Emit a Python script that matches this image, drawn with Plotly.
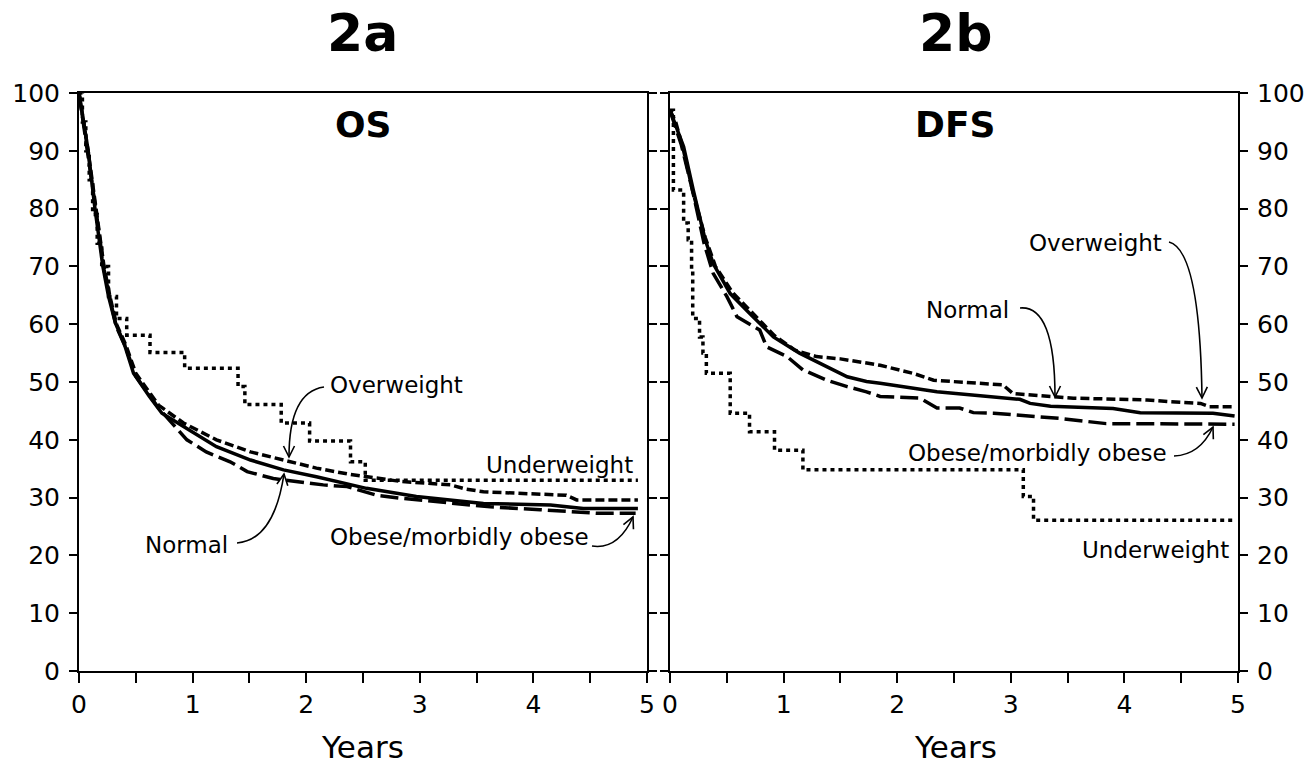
import math
import plotly.graph_objects as go

# ---------------- data ----------------
# 2a  OS (overall survival, %)
os_t_normal = [0, 0.08, 0.14, 0.21, 0.26, 0.32, 0.40, 0.48, 0.62, 0.73, 0.92, 1.21, 1.51, 1.80, 2.09, 2.39, 2.53, 2.97, 3.56, 4.15, 4.44, 4.92]
os_normal   = [100, 90.1, 80.1, 70.0, 64.8, 60.2, 56.5, 51.5, 47.5, 44.6, 42.3, 38.8, 36.5, 34.8, 33.6, 32.2, 31.6, 30.2, 29.0, 28.7, 28.1, 28.1]

os_t_over = [0, 0.08, 0.15, 0.22, 0.27, 0.33, 0.41, 0.50, 0.70, 0.92, 1.21, 1.51, 1.80, 2.09, 2.39, 2.83, 3.27, 3.40, 3.56, 4.29, 4.38, 4.92]
os_over   = [100, 90.0, 80.0, 70.0, 65.0, 60.0, 56.5, 51.5, 46.0, 42.9, 40.0, 37.9, 36.5, 35.1, 34.0, 32.8, 32.2, 31.5, 31.0, 30.4, 29.6, 29.6]

os_t_obese = [0, 0.08, 0.15, 0.22, 0.27, 0.33, 0.41, 0.50, 0.70, 0.95, 1.12, 1.33, 1.48, 1.71, 1.92, 2.15, 2.36, 2.62, 2.83, 3.62, 4.06, 4.56, 4.90]
os_obese   = [100, 89.5, 79.5, 69.5, 64.5, 59.5, 56.0, 51.0, 45.5, 40.0, 37.9, 36.2, 34.5, 33.3, 32.8, 32.2, 31.9, 30.4, 29.9, 28.4, 27.9, 27.3, 27.3]

os_t_under = [0, 0.03, 0.06, 0.09, 0.12, 0.16, 0.20, 0.26, 0.33, 0.42, 0.625, 0.93, 1.40, 1.46, 1.78, 2.03, 2.39, 2.52, 4.92]
os_under   = [100, 95.0, 90.0, 85.0, 79.0, 74.0, 70.0, 64.8, 61.0, 58.1, 55.1, 52.4, 49.2, 46.1, 42.9, 39.8, 36.2, 33.0, 33.0]

# 2b  DFS (disease-free survival, %)
dfs_t_normal = [0, 0.12, 0.205, 0.31, 0.38, 0.53, 0.70, 0.91, 1.14, 1.38, 1.56, 1.73, 1.85, 2.35, 3.08, 3.17, 3.35, 3.90, 4.14, 4.78, 4.97]
dfs_normal   = [97, 90.7, 83.2, 74.6, 70.5, 65.3, 61.9, 57.8, 55.0, 52.6, 50.9, 50.1, 49.8, 48.3, 47.0, 46.3, 45.8, 45.4, 44.7, 44.6, 44.1]

dfs_t_over = [0, 0.05, 0.12, 0.20, 0.31, 0.40, 0.55, 0.72, 0.92, 1.10, 1.29, 1.50, 1.73, 1.85, 2.14, 2.32, 2.93, 3.02, 3.55, 4.20, 4.40, 4.67, 4.75, 4.97]
dfs_over   = [97, 95.0, 90.0, 83.0, 75.0, 70.0, 65.5, 62.0, 58.0, 55.5, 54.4, 54.0, 53.2, 52.9, 51.5, 50.3, 49.5, 48.0, 47.2, 46.9, 46.6, 46.3, 45.7, 45.7]

dfs_t_obese = [0, 0.10, 0.20, 0.30, 0.38, 0.50, 0.59, 0.79, 0.85, 1.03, 1.17, 1.38, 1.56, 1.73, 1.85, 2.20, 2.35, 2.55, 2.67, 2.85, 3.43, 3.84, 4.97]
dfs_obese   = [97, 91.0, 83.0, 74.0, 68.8, 64.8, 61.3, 59.0, 56.1, 54.4, 52.1, 50.3, 49.2, 48.3, 47.5, 47.2, 45.5, 45.5, 44.7, 44.6, 43.7, 42.8, 42.7]

dfs_t_under = [0, 0.03, 0.12, 0.16, 0.19, 0.20, 0.26, 0.29, 0.32, 0.53, 0.70, 0.92, 1.17, 3.11, 3.20, 4.97]
dfs_under   = [97, 83.2, 77.5, 74.6, 69.4, 61.0, 57.8, 55.0, 51.5, 44.6, 41.4, 38.2, 34.8, 30.2, 26.1, 26.1]

x_ticks = [0, 1, 2, 3, 4, 5]
y_ticks = [0, 10, 20, 30, 40, 50, 60, 70, 80, 90, 100]

# ---------------- figure ----------------
W, H = 1306, 764
FONT = "DejaVu Sans"


def px(x):
    return x / W


def py(y):
    return 1 - y / H


fig = go.Figure()

styles = {
    "normal": dict(color="black", width=3.5, dash="solid"),
    "over": dict(color="black", width=3.5, dash="9px,4px"),
    "obese": dict(color="black", width=3.5, dash="18px,6px"),
    "under": dict(color="black", width=3.5, dash="4px,4px"),
}

panels = [
    ("x", "y", [(os_t_obese, os_obese, "obese", "linear"),
                (os_t_over, os_over, "over", "linear"),
                (os_t_under, os_under, "under", "hv"),
                (os_t_normal, os_normal, "normal", "linear")]),
    ("x2", "y2", [(dfs_t_obese, dfs_obese, "obese", "linear"),
                  (dfs_t_over, dfs_over, "over", "linear"),
                  (dfs_t_under, dfs_under, "under", "hv"),
                  (dfs_t_normal, dfs_normal, "normal", "linear")]),
]
for xa, ya, series in panels:
    for t, v, key, shape in series:
        fig.add_trace(go.Scatter(x=t, y=v, mode="lines", xaxis=xa, yaxis=ya,
                                 line=dict(shape=shape, **styles[key]),
                                 showlegend=False, hoverinfo="skip"))

ydom = [1 - 671 / H, 1 - 93 / H]
common_x = dict(range=[0, 5], tickvals=x_ticks, ticks="outside", ticklen=10, tickwidth=2,
                tickcolor="black", showline=True, linewidth=2, linecolor="black",
                mirror=True, showgrid=False, zeroline=False, automargin=False,
                tickfont=dict(family=FONT, size=25, color="black"),
                minor=dict(dtick=0.5, ticks="outside", ticklen=10, tickwidth=2,
                           tickcolor="black", showgrid=False))
common_y = dict(range=[0, 100], tickvals=y_ticks, ticks="outside", ticklen=8, tickwidth=2,
                tickcolor="black", showline=True, linewidth=2, linecolor="black",
                mirror="ticks", showgrid=False, zeroline=False, automargin=False,
                ticklabelstandoff=4,
                tickfont=dict(family=FONT, size=25, color="black"))

fig.update_layout(
    template="none",
    width=W, height=H,
    margin=dict(l=0, r=0, t=0, b=0, autoexpand=False),
    paper_bgcolor="white", plot_bgcolor="white",
    font=dict(family=FONT, color="black"),
    xaxis=dict(domain=[79 / W, 647 / W], anchor="y", **common_x),
    yaxis=dict(domain=ydom, anchor="x", side="left", **common_y),
    xaxis2=dict(domain=[670 / W, 1238 / W], anchor="y2", **common_x),
    yaxis2=dict(domain=ydom, anchor="x2", side="right", **common_y),
)

annotations = []


def text(s, x, y, size=23, bold=False):
    annotations.append(dict(text=("<b>%s</b>" % s) if bold else s, x=px(x), y=py(y),
                            xref="paper", yref="paper", showarrow=False,
                            xanchor="center", yanchor="middle",
                            font=dict(family=FONT, size=size, color="black")))


# titles
text("2a", 362, 33, size=52, bold=True)
text("2b", 955, 33, size=52, bold=True)
text("OS", 363, 124, size=36, bold=True)
text("DFS", 955, 124, size=36, bold=True)
text("Years", 362, 747, size=31)
text("Years", 955, 747, size=31)

# curve labels
text("Overweight", 396, 385)
text("Underweight", 559, 465)
text("Normal", 186, 545)
text("Obese/morbidly obese", 459, 537)
text("Overweight", 1095, 243)
text("Normal", 967, 310)
text("Obese/morbidly obese", 1037, 453)
text("Underweight", 1155, 550)

fig.update_layout(annotations=annotations)

shapes = []


def curved_arrow(p0, c, p1, head=11, half=5.5):
    path = "M %f,%f Q %f,%f %f,%f" % (px(p0[0]), py(p0[1]), px(c[0]), py(c[1]), px(p1[0]), py(p1[1]))
    shapes.append(dict(type="path", path=path, xref="paper", yref="paper",
                       line=dict(color="black", width=1.6)))
    dx, dy = p1[0] - c[0], p1[1] - c[1]
    L = math.hypot(dx, dy)
    ux, uy = dx / L, dy / L
    nx, ny = -uy, ux
    a1 = (p1[0] - head * ux + half * nx, p1[1] - head * uy + half * ny)
    a2 = (p1[0] - head * ux - half * nx, p1[1] - head * uy - half * ny)
    hp = "M %f,%f L %f,%f L %f,%f" % (px(a1[0]), py(a1[1]), px(p1[0]), py(p1[1]), px(a2[0]), py(a2[1]))
    shapes.append(dict(type="path", path=hp, xref="paper", yref="paper",
                       line=dict(color="black", width=1.6)))


# left panel arrows
curved_arrow((324, 387), (289, 392), (289, 457))     # Overweight
curved_arrow((237, 543), (274, 540), (284, 474))     # Normal
curved_arrow((592, 546), (618, 550), (633, 517))     # Obese
# right panel arrows
curved_arrow((1169, 242), (1200, 250), (1202, 398))  # Overweight
curved_arrow((1020, 308), (1055, 305), (1055, 397))  # Normal
curved_arrow((1174, 456), (1200, 455), (1213, 427))  # Obese

fig.update_layout(shapes=shapes)

fig.write_html("out.html", include_plotlyjs=True, full_html=True,
               config={"displayModeBar": False},
               post_script="document.body.style.margin='0';document.body.style.overflow='hidden';")
